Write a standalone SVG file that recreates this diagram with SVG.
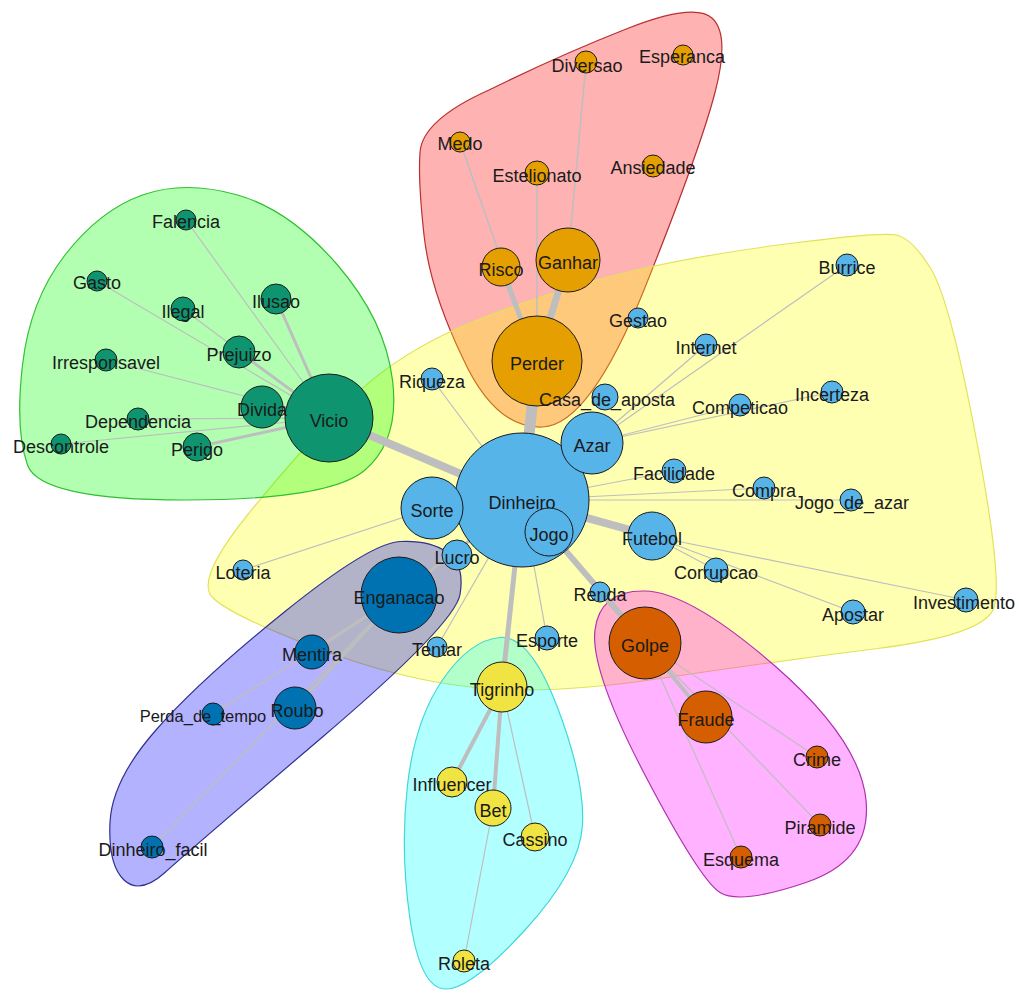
<svg xmlns="http://www.w3.org/2000/svg" width="1019" height="994" viewBox="0 0 1019 994">
<style>
.hull{stroke-width:1.2}
.h-red{fill:#FF0000;fill-opacity:.3;stroke:#B83030}
.h-yel{fill:#FFFF00;fill-opacity:.3;stroke:#E2E25A}
.h-grn{fill:#00FF00;fill-opacity:.3;stroke:#30C030}
.h-cyn{fill:#00FFFF;fill-opacity:.3;stroke:#40D8D8}
.h-blu{fill:#0000FF;fill-opacity:.3;stroke:#303090}
.h-mag{fill:#FF00FF;fill-opacity:.3;stroke:#B030B0}
#connectors line{stroke:#BEBEBE;stroke-linecap:butt}
.n circle{stroke:#1a1a1a;stroke-width:1}
.n text{font-family:"Liberation Sans",Arial,sans-serif;font-size:18px;text-anchor:middle;fill:#1a1a1a}
.or circle{fill:#E69F00}
.sb circle{fill:#56B4E9}
.gr circle{fill:#0E9570}
.yl circle{fill:#F0E442}
.db circle{fill:#0072B2}
.rd circle{fill:#D55E00}
</style>
<rect width="1019" height="994" fill="#FFFFFF"/>
<g id="hulls">
<path id="hull-perder" class="hull h-red" d="M489,90 Q560,55 627.5,28.5 Q695,2 712.5,18.5 Q730,35 715,92.5 Q700,150 645,287.5 Q590,425 542.5,427 Q495,429 462.5,357.5 Q430,290 424,235 Q418,180 420,152.5 Q422,120 489,90 Z"/>
<path id="hull-dinheiro" class="hull h-yel" d="M247.5,515 Q300,450 350,400 Q400,350 480,319 Q560,288 630,271.5 Q700,255 790,243.5 Q880,232 896,235 Q912,238 931,269 Q950,300 976.5,440 Q1003,580 994,607.5 Q985,635 877.5,648.5 Q770,662 660,678.5 Q550,695 475,687.5 Q400,680 315,647.5 Q230,615 212.5,597.5 Q195,580 247.5,515 Z"/>
<path id="hull-vicio" class="hull h-grn" d="M237.5,195 Q290,210 337.5,265 Q385,320 392.5,380 Q400,440 365,470 Q330,500 185,500 Q40,500 27.5,465 Q15,430 22.5,365 Q30,300 65,255 Q100,210 142.5,195 Q185,180 237.5,195 Z"/>
<path id="hull-tigrinho" class="hull h-cyn" d="M500,637.5 Q530,635 557.5,707.5 Q585,780 582.5,825 Q580,870 525,930 Q470,990 445,989 Q420,988 410,919 Q400,850 407.5,785 Q415,720 442.5,680 Q470,640 500,637.5 Z"/>
<path id="hull-enganacao" class="hull h-blu" d="M447.5,552.5 Q465,565 460,594.5 Q455,624 322.5,737 Q190,850 165,872.5 Q140,895 124,880 Q108,865 110,822.5 Q112,780 156,730 Q200,680 285,611.5 Q370,543 400,541.5 Q430,540 447.5,552.5 Z"/>
<path id="hull-golpe" class="hull h-mag" d="M645,591 Q690,592 775,666 Q860,740 866,800 Q872,860 806,882.5 Q740,905 720,892.5 Q700,880 645,775 Q590,670 595,630 Q600,590 645,591 Z"/>
</g>
<g id="connectors">
<line x1="522" y1="500" x2="537" y2="361" stroke-width="11"/>
<line x1="522" y1="500" x2="329" y2="418" stroke-width="8"/>
<line x1="522" y1="500" x2="652" y2="536" stroke-width="8"/>
<line x1="522" y1="500" x2="502" y2="687" stroke-width="5"/>
<line x1="522" y1="500" x2="645" y2="643" stroke-width="6"/>
<line x1="522" y1="500" x2="399" y2="595" stroke-width="3"/>
<line x1="537" y1="361" x2="568" y2="260" stroke-width="7"/>
<line x1="537" y1="361" x2="501" y2="267" stroke-width="5"/>
<line x1="537" y1="361" x2="460" y2="142" stroke-width="1.5"/>
<line x1="537" y1="361" x2="537" y2="173" stroke-width="1.5"/>
<line x1="568" y1="260" x2="586" y2="63" stroke-width="1.5"/>
<line x1="329" y1="418" x2="276" y2="299" stroke-width="3"/>
<line x1="329" y1="418" x2="239" y2="352" stroke-width="3"/>
<line x1="329" y1="418" x2="262" y2="407" stroke-width="3"/>
<line x1="329" y1="418" x2="197" y2="447" stroke-width="3"/>
<line x1="329" y1="418" x2="186" y2="220" stroke-width="1.2"/>
<line x1="329" y1="418" x2="97" y2="281" stroke-width="1.2"/>
<line x1="329" y1="418" x2="183" y2="309" stroke-width="1.2"/>
<line x1="329" y1="418" x2="106" y2="360" stroke-width="1.2"/>
<line x1="329" y1="418" x2="138" y2="419" stroke-width="1.2"/>
<line x1="329" y1="418" x2="61" y2="444" stroke-width="1.2"/>
<line x1="522" y1="500" x2="432" y2="379" stroke-width="1.2"/>
<line x1="522" y1="500" x2="437" y2="647" stroke-width="1.2"/>
<line x1="522" y1="500" x2="547" y2="638" stroke-width="1.2"/>
<line x1="432" y1="508" x2="243" y2="570" stroke-width="1.2"/>
<line x1="522" y1="500" x2="674" y2="471" stroke-width="1.2"/>
<line x1="522" y1="500" x2="764" y2="488" stroke-width="1.2"/>
<line x1="522" y1="500" x2="851" y2="500" stroke-width="1.2"/>
<line x1="592" y1="443" x2="706" y2="345" stroke-width="1.2"/>
<line x1="592" y1="443" x2="847" y2="265" stroke-width="1.2"/>
<line x1="592" y1="443" x2="740" y2="405" stroke-width="1.2"/>
<line x1="592" y1="443" x2="832" y2="392" stroke-width="1.2"/>
<line x1="652" y1="536" x2="716" y2="570" stroke-width="1.2"/>
<line x1="652" y1="536" x2="853" y2="612" stroke-width="1.2"/>
<line x1="652" y1="536" x2="966" y2="600" stroke-width="1.2"/>
<line x1="399" y1="595" x2="312" y2="652" stroke-width="3"/>
<line x1="399" y1="595" x2="295" y2="708" stroke-width="3"/>
<line x1="399" y1="595" x2="213" y2="714" stroke-width="1.5"/>
<line x1="399" y1="595" x2="152" y2="847" stroke-width="1.5"/>
<line x1="502" y1="687" x2="452" y2="782" stroke-width="4"/>
<line x1="502" y1="687" x2="493" y2="808" stroke-width="4"/>
<line x1="502" y1="687" x2="535" y2="837" stroke-width="1.2"/>
<line x1="493" y1="808" x2="464" y2="961" stroke-width="1.2"/>
<line x1="645" y1="643" x2="706" y2="717" stroke-width="4"/>
<line x1="645" y1="643" x2="817" y2="757" stroke-width="1.2"/>
<line x1="645" y1="643" x2="820" y2="825" stroke-width="1.2"/>
<line x1="645" y1="643" x2="741" y2="857" stroke-width="1.2"/>
</g>
<g id="nodes">
<g id="node-Dinheiro" class="n sb"><circle cx="522" cy="500" r="67"/><text x="522" y="509">Dinheiro</text></g>
<g id="node-Perder" class="n or"><circle cx="537" cy="361" r="45"/><text x="537" y="370">Perder</text></g>
<g id="node-Vicio" class="n gr"><circle cx="329" cy="418" r="44"/><text x="329" y="427">Vicio</text></g>
<g id="node-Enganacao" class="n db"><circle cx="399" cy="595" r="38"/><text x="399" y="604">Enganacao</text></g>
<g id="node-Golpe" class="n rd"><circle cx="645" cy="643" r="36"/><text x="645" y="652">Golpe</text></g>
<g id="node-Ganhar" class="n or"><circle cx="568" cy="260" r="32"/><text x="568" y="269">Ganhar</text></g>
<g id="node-Azar" class="n sb"><circle cx="592" cy="443" r="31"/><text x="592" y="452">Azar</text></g>
<g id="node-Sorte" class="n sb"><circle cx="432" cy="508" r="31"/><text x="432" y="517">Sorte</text></g>
<g id="node-Jogo" class="n sb"><circle cx="549" cy="532" r="24"/><text x="549" y="541">Jogo</text></g>
<g id="node-Fraude" class="n rd"><circle cx="706" cy="717" r="26"/><text x="706" y="726">Fraude</text></g>
<g id="node-Futebol" class="n sb"><circle cx="652" cy="536" r="24"/><text x="652" y="545">Futebol</text></g>
<g id="node-Tigrinho" class="n yl"><circle cx="502" cy="687" r="25"/><text x="502" y="696">Tigrinho</text></g>
<g id="node-Divida" class="n gr"><circle cx="262" cy="407" r="21"/><text x="262" y="416">Divida</text></g>
<g id="node-Roubo" class="n db"><circle cx="295" cy="708" r="21"/><text x="297" y="717">Roubo</text></g>
<g id="node-Risco" class="n or"><circle cx="501" cy="267" r="19"/><text x="501" y="276">Risco</text></g>
<g id="node-Bet" class="n yl"><circle cx="493" cy="808" r="18"/><text x="493" y="817">Bet</text></g>
<g id="node-Mentira" class="n db"><circle cx="312" cy="652" r="17"/><text x="312" y="661">Mentira</text></g>
<g id="node-Prejuizo" class="n gr"><circle cx="239" cy="352" r="16"/><text x="239" y="361">Prejuizo</text></g>
<g id="node-Ilusao" class="n gr"><circle cx="276" cy="299" r="15"/><text x="276" y="308">Ilusao</text></g>
<g id="node-Lucro" class="n sb"><circle cx="457" cy="555" r="15"/><text x="457" y="564">Lucro</text></g>
<g id="node-Influencer" class="n yl"><circle cx="452" cy="782" r="15"/><text x="452" y="791">Influencer</text></g>
<g id="node-Cassino" class="n yl"><circle cx="535" cy="837" r="14"/><text x="535" y="846">Cassino</text></g>
<g id="node-Perigo" class="n gr"><circle cx="197" cy="447" r="14"/><text x="197" y="456">Perigo</text></g>
<g id="node-Casa_de_aposta" class="n sb"><circle cx="605" cy="397" r="13"/><text x="607" y="406">Casa_de_aposta</text></g>
<g id="node-Perda_de_tempo" class="n db"><circle cx="213" cy="714" r="11"/><text x="203" y="722" style="font-size:16.5px">Perda_de_tempo</text></g>
<g id="node-Dinheiro_facil" class="n db"><circle cx="152" cy="847" r="11"/><text x="153" y="856">Dinheiro_facil</text></g>
<g id="node-Diversao" class="n or"><circle cx="586" cy="62" r="11"/><text x="587" y="72">Diversao</text></g>
<g id="node-Esperanca" class="n or"><circle cx="683" cy="55" r="10"/><text x="682" y="63">Esperanca</text></g>
<g id="node-Medo" class="n or"><circle cx="460" cy="142" r="10"/><text x="460" y="150">Medo</text></g>
<g id="node-Estelionato" class="n or"><circle cx="537" cy="173" r="12"/><text x="537" y="182">Estelionato</text></g>
<g id="node-Ansiedade" class="n or"><circle cx="653" cy="166" r="11"/><text x="653" y="174">Ansiedade</text></g>
<g id="node-Falencia" class="n gr"><circle cx="186" cy="220" r="10"/><text x="186" y="228">Falencia</text></g>
<g id="node-Gasto" class="n gr"><circle cx="97" cy="281" r="10"/><text x="97" y="289">Gasto</text></g>
<g id="node-Ilegal" class="n gr"><circle cx="183" cy="309" r="12"/><text x="183" y="318">Ilegal</text></g>
<g id="node-Irresponsavel" class="n gr"><circle cx="106" cy="360" r="11"/><text x="106" y="369">Irresponsavel</text></g>
<g id="node-Dependencia" class="n gr"><circle cx="138" cy="419" r="11"/><text x="138" y="428">Dependencia</text></g>
<g id="node-Descontrole" class="n gr"><circle cx="61" cy="444" r="10"/><text x="61" y="453">Descontrole</text></g>
<g id="node-Riqueza" class="n sb"><circle cx="432" cy="379" r="11"/><text x="432" y="388">Riqueza</text></g>
<g id="node-Gestao" class="n sb"><circle cx="638" cy="318" r="10"/><text x="638" y="327">Gestao</text></g>
<g id="node-Internet" class="n sb"><circle cx="706" cy="345" r="11"/><text x="706" y="354">Internet</text></g>
<g id="node-Burrice" class="n sb"><circle cx="847" cy="265" r="11"/><text x="847" y="274">Burrice</text></g>
<g id="node-Competicao" class="n sb"><circle cx="740" cy="405" r="11"/><text x="740" y="414">Competicao</text></g>
<g id="node-Incerteza" class="n sb"><circle cx="832" cy="392" r="11"/><text x="832" y="401">Incerteza</text></g>
<g id="node-Facilidade" class="n sb"><circle cx="674" cy="471" r="12"/><text x="674" y="480">Facilidade</text></g>
<g id="node-Compra" class="n sb"><circle cx="764" cy="488" r="11"/><text x="764" y="497">Compra</text></g>
<g id="node-Jogo_de_azar" class="n sb"><circle cx="851" cy="500" r="11"/><text x="852" y="509">Jogo_de_azar</text></g>
<g id="node-Corrupcao" class="n sb"><circle cx="716" cy="570" r="12"/><text x="716" y="579">Corrupcao</text></g>
<g id="node-Renda" class="n sb"><circle cx="600" cy="592" r="10"/><text x="600" y="601">Renda</text></g>
<g id="node-Apostar" class="n sb"><circle cx="853" cy="612" r="12"/><text x="853" y="621">Apostar</text></g>
<g id="node-Investimento" class="n sb"><circle cx="966" cy="600" r="12"/><text x="964" y="609">Investimento</text></g>
<g id="node-Esporte" class="n sb"><circle cx="547" cy="638" r="12"/><text x="547" y="647">Esporte</text></g>
<g id="node-Tentar" class="n sb"><circle cx="437" cy="647" r="10"/><text x="437" y="656">Tentar</text></g>
<g id="node-Loteria" class="n sb"><circle cx="243" cy="570" r="10"/><text x="243" y="579">Loteria</text></g>
<g id="node-Roleta" class="n yl"><circle cx="464" cy="961" r="11"/><text x="464" y="970">Roleta</text></g>
<g id="node-Crime" class="n rd"><circle cx="817" cy="757" r="11"/><text x="817" y="766">Crime</text></g>
<g id="node-Piramide" class="n rd"><circle cx="820" cy="825" r="11"/><text x="820" y="834">Piramide</text></g>
<g id="node-Esquema" class="n rd"><circle cx="741" cy="857" r="11"/><text x="741" y="866">Esquema</text></g>
</g>
</svg>
